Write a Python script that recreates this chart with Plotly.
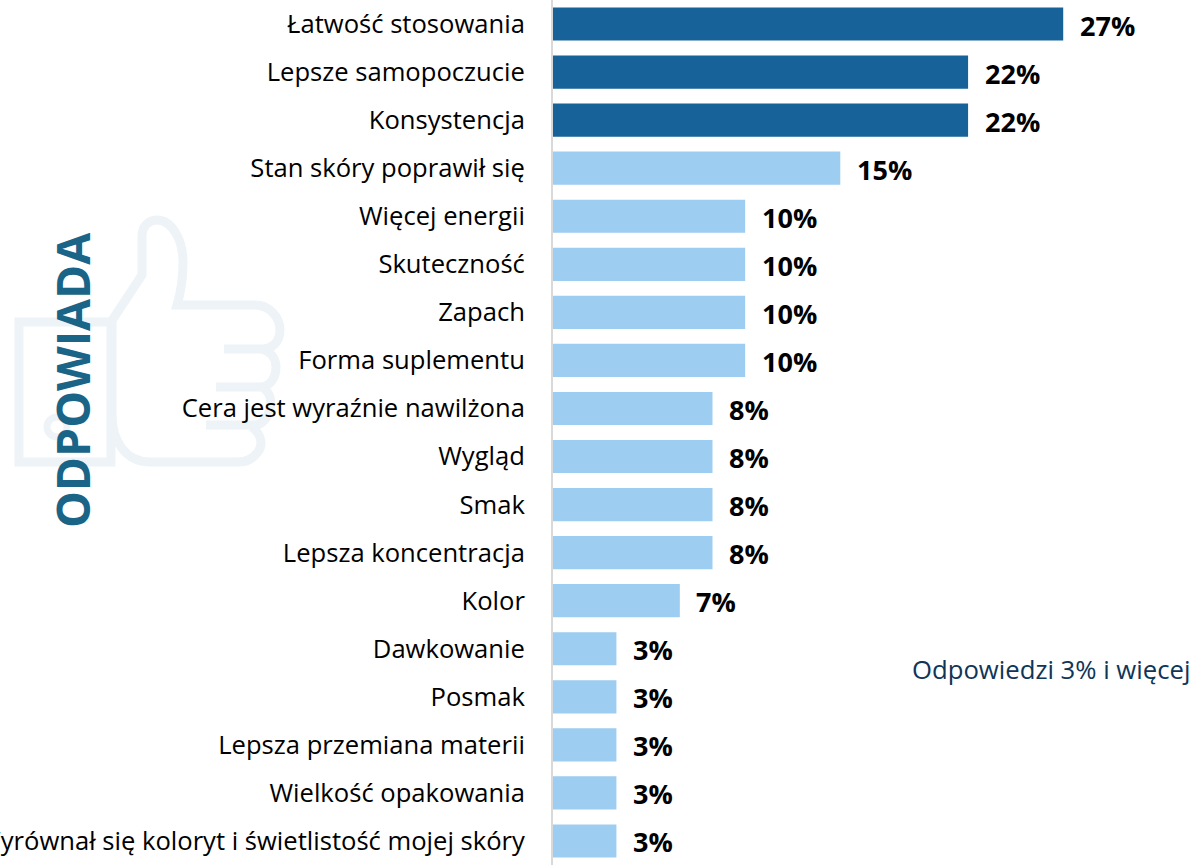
import plotly.graph_objects as go

categories = ["Łatwość stosowania", "Lepsze samopoczucie", "Konsystencja", "Stan skóry poprawił się",
              "Więcej energii", "Skuteczność", "Zapach", "Forma suplementu",
              "Cera jest wyraźnie nawilżona", "Wygląd", "Smak", "Lepsza koncentracja", "Kolor",
              "Dawkowanie", "Posmak", "Lepsza przemiana materii", "Wielkość opakowania",
              "Wyrównał się koloryt i świetlistość mojej skóry"]
values = [26.55, 21.6, 21.6, 14.95, 10, 10, 10, 10, 8.3, 8.3, 8.3, 8.3, 6.6, 3.3, 3.3, 3.3, 3.3, 3.3]
labels = ["27%", "22%", "22%", "15%", "10%", "10%", "10%", "10%", "8%", "8%", "8%", "8%", "7%",
          "3%", "3%", "3%", "3%", "3%"]
colors = ["#166299"] * 3 + ["#9DCDF1"] * 15

W, H, L = 1191, 865, 553
def px(x): return (x - L) / (W - L)
def py(y): return 1 - y / H
def path(cmds):
    out = []
    for c in cmds:
        if isinstance(c, str):
            out.append(c)
        else:
            out.append(" ".join(f"{px(c[i]):.4f},{py(c[i+1]):.4f}" for i in range(0, len(c), 2)))
    return " ".join(out)

ICON = "#EEF3F7"
thumb = [
    path(["M", (19, 322), "L", (111, 322), "L", (111, 462), "L", (19, 462), "Z"]),
    path(["M", (111, 322), "L", (142, 275), "L", (142, 236), "C", (142, 225, 150, 220, 157, 220),
          "C", (172, 220, 183, 240, 183, 262), "C", (183, 280, 180, 295, 177, 305), "L", (255, 305),
          "C", (270, 305, 280, 318, 280, 330), "C", (280, 342, 272, 349, 262, 349), "L", (224, 349),
          "M", (262, 349), "C", (272, 352, 276, 360, 276, 367), "C", (276, 378, 270, 386, 262, 387), "L", (216, 387),
          "M", (262, 387), "C", (270, 392, 272, 400, 270, 408), "C", (268, 418, 262, 425, 255, 425), "L", (206, 425),
          "M", (252, 427), "C", (262, 435, 263, 445, 258, 452), "C", (253, 459, 245, 462, 238, 462), "L", (150, 462),
          "C", (125, 462, 112, 440, 112, 415), "L", (112, 322)]),
]

shapes = [dict(type="path", path=p, xref="paper", yref="paper", line=dict(color=ICON, width=9), layer="below")
          for p in thumb]
shapes.append(dict(type="circle", xref="paper", yref="paper", x0=px(47), x1=px(67), y0=py(437), y1=py(417),
                   line=dict(color=ICON, width=7), layer="below"))

annotations = [dict(x=v, y=c, text=f"<b>{t}</b>", xref="x", yref="y", xanchor="left", yanchor="middle",
                    xshift=14.5, yshift=-1, showarrow=False,
                    font=dict(family="Open Sans", size=27, color="#000000"))
               for c, v, t in zip(categories, values, labels)]
annotations.append(dict(x=px(72), y=py(381), xref="paper", yref="paper", text="<b>ODPOWIADA</b>", textangle=-90,
                        xanchor="center", yanchor="middle",
                        showarrow=False, font=dict(family="Open Sans", size=46.3, color="#1A6488")))
annotations.append(dict(x=px(1190), y=py(669), xref="paper", yref="paper", text="Odpowiedzi 3% i więcej",
                        xanchor="right", yanchor="middle", xshift=2,
                        showarrow=False, font=dict(family="Open Sans", size=25.7, color="#0F3557")))

fig = go.Figure(go.Bar(x=values, y=categories, orientation="h", marker=dict(color=colors, line_width=0), width=0.69))
fig.update_layout(
    width=W, height=H, margin=dict(l=L, r=0, t=0, b=0), paper_bgcolor="white", plot_bgcolor="rgba(0,0,0,0)",
    showlegend=False, shapes=shapes, annotations=annotations,
    xaxis=dict(range=[0, 33.2], visible=False),
    yaxis=dict(categoryorder="array", categoryarray=categories, range=[17.5, -0.5], automargin=False,
               showline=True, linecolor="#D9D9D9", linewidth=2, showgrid=False, ticks="", ticklabelstandoff=21,
               tickfont=dict(family="Open Sans", size=25.6, color="#000000")),
)
fig.write_html("out.html", config=dict(displayModeBar=False), post_script="document.body.style.margin='0';")
